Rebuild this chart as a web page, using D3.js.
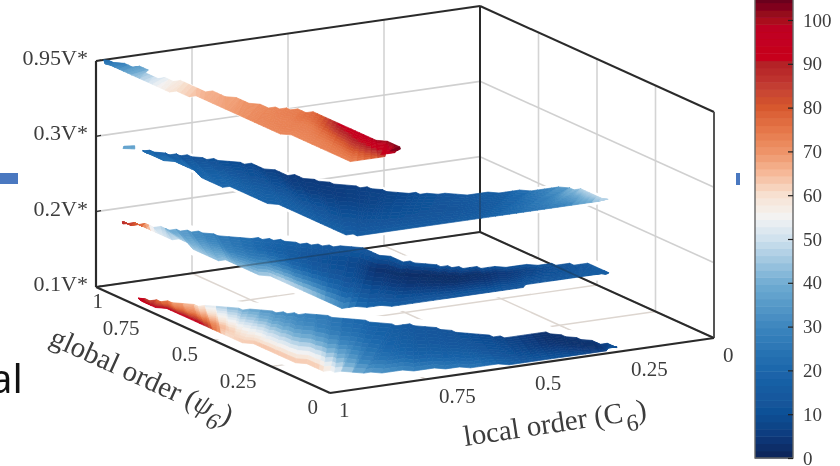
<!DOCTYPE html>
<html>
<head>
<meta charset="utf-8">
<script src="https://cdn.jsdelivr.net/npm/d3@7"></script>
<style>
  html, body { margin: 0; padding: 0; background: #fff; }
  svg { display: block; }
  text { font-family: "Liberation Serif", serif; fill: #3c3c3c; }
</style>
</head>
<body>
<svg id="chart" width="840" height="466"></svg>
<script>
// Axis ticks
const voltageLevels = ["0.1V*", "0.2V*", "0.3V*", "0.95V*"];
const psiTicks = [1, 0.75, 0.5, 0.25, 0];
const localTicks = [1, 0.75, 0.5, 0.25, 0];
const colorbarTicks = [0, 10, 20, 30, 40, 50, 60, 70, 80, 90, 100];

// Colormap
const colorStops = [0, 5, 10, 20, 30, 40, 50, 55, 60, 65, 70, 75, 80, 85, 90, 91, 98, 100, 105];
const colorValues = ["#0a2456", "#0e3a7c", "#104f95", "#1b66ab", "#3c86be", "#72add3", "#cfe1ee", "#f3f3f3",
  "#f7e2d2", "#f6b999", "#ee9468", "#e57648", "#d7582f", "#c33c30", "#b41f28", "#c8051f", "#bf0020", "#a80a1e", "#68001a"];

// Each band is a ribbon of cross sections: [psi upper edge, C upper edge, psi lower edge, C lower edge]
const band0Sections = [[.878,.965,.86,.97],[.816,.919,.75,.96],[.77,.88,.621,.96],[.726,.836,.524,.955],[.635,.751,.40,.94],
  [.566,.673,.175,.92],[.426,.584,.113,.854],[.398,.531,.075,.728],[.303,.477,.03,.583],[.22,.405,.025,.48],
  [.218,.312,.025,.38],[.091,.249,.025,.28],[.035,.231,.03,.235]];
// Five readings across each section, upper edge to lower edge
const band0Values = [[92,92,92,92,92],[72,74,78,85,92],[62,66,72,82,95],[45,52,58,64,60],[32,38,47,55,65],
  [26,28,38,52,64],[16,18,22,27,38],[14,14,16,20,28],[11,12,14,18,24],[7,8,9,11,15],
  [3,3,4,7,11],[5,3,3,4,7],[12,12,12,12,12]];

const band1Sections = [[.901,.992,.885,1],[.87,.964,.85,.97],[.835,.95,.80,.97],[.80,.93,.685,.96],[.757,.895,.55,.97],
  [.686,.85,.462,.95],[.627,.774,.30,.94],[.543,.72,.178,.943],[.471,.635,.058,.93],[.39,.624,.041,.879],
  [.297,.592,.014,.809],[.225,.525,.01,.70],[.202,.479,.011,.568],[.181,.403,.025,.50],[.147,.303,.039,.403],
  [.113,.254,.035,.32],[.03,.258,.03,.265]];
const band1Values = [[88,88,88,88,88],[78,78,78,78,78],[53,53,54,54,54],[40,40,42,44,46],[32,32,36,40,44],
  [25,26,28,34,42],[20,18,24,36,50],[16,12,16,28,46],[14,8,10,18,32],[13,3,6,12,20],
  [12,2,4,9,16],[11,2,3,8,15],[11,3,4,8,14],[12,6,7,10,14],[13,11,11,12,14],
  [15,14,14,15,15],[17,17,17,17,17]];

const band2Sections = [[.852,.968,.84,.97],[.805,.933,.70,.96],[.76,.901,.529,.965],[.666,.829,.40,.95],[.595,.802,.28,.94],
  [.507,.777,.15,.935],[.423,.742,.04,.931],[.343,.679,.01,.909],[.279,.647,.015,.85],[.21,.533,.021,.70],
  [.181,.421,.018,.598],[.154,.299,.02,.50],[.12,.268,.025,.38],[.022,.262,.025,.27]];
const band2Values = [[22,22,22,22,22],[16,17,20,22,23],[12,14,17,19,20],[9,11,14,17,19],[7,9,12,16,18],
  [5,6,10,14,18],[5,6,9,13,17],[7,7,9,12,16],[8,9,10,12,16],[14,13,12,13,15],
  [17,16,15,15,16],[34,30,26,24,22],[47,42,36,32,28],[48,48,48,48,48]];

// Small detached patch at the start of the 0.3V* band
const band2PatchSections = [[.90,.988,.885,1],[.892,.965,.87,.978]];
const band2PatchValues = [[40,38,38,38,40],[40,38,38,38,40]];

const band3Sections = [[1,.98,.97,.995],[.91,.94,.893,.995],[.822,.95,.80,.99],[.773,.925,.718,.985],[.671,.911,.62,.955],
  [.583,.887,.50,.954],[.494,.863,.40,.953],[.439,.81,.302,.95],[.373,.791,.22,.935],[.30,.787,.13,.934],
  [.22,.785,.022,.934],[.14,.783,.023,.863],[.057,.782,.05,.795]];
const band3Values = [[22,22,24,25,26],[36,36,36,36,36],[50,50,50,50,50],[58,58,58,58,58],[66,66,66,66,66],
  [69,69,69,69,69],[72,72,72,72,72],[74,74,73,73,72],[80,78,74,73,72],[92,86,78,74,73],
  [96,91,84,77,73],[101,96,92,86,80],[104,104,104,104,104]];

const width = 840, height = 466;
const svg = d3.select("#chart");

// Soft focus, the reference is an upscaled picture
svg.append("defs").append("filter").attr("id", "soft")
    .append("feGaussianBlur").attr("stdDeviation", 0.5);

// Box projection: psi and C run along the two floor edges, level goes straight up
const originX = 96, originY = 287;
let psiX = d3.scaleLinear().domain([1, 0]).range([0, 234]);
let psiY = d3.scaleLinear().domain([1, 0]).range([0, 106]);
let localX = d3.scaleLinear().domain([1, 0]).range([0, 384]);
let localY = d3.scaleLinear().domain([1, 0]).range([0, -55]);
let levelZ = d3.scalePoint().domain(voltageLevels).range([0, 226]);

function project(psi, c, level) {
  return [originX + psiX(psi) + localX(c), originY + psiY(psi) + localY(c) - levelZ(level)];
}

let color = d3.scaleLinear().domain(colorStops).range(colorValues);
let plot = svg.append("g").attr("filter", "url(#soft)");

function segment(g, a, b, stroke, w) {
  g.append("line")
      .attr("x1", a[0]).attr("y1", a[1])
      .attr("x2", b[0]).attr("y2", b[1])
      .attr("stroke", stroke).attr("stroke-width", w);
}

// Grid on the two walls and the floor
let grid = plot.append("g");
const bottom = voltageLevels[0], top_ = voltageLevels[3];
localTicks.slice(1, 4).forEach(function(c) {
  segment(grid, project(1, c, bottom), project(1, c, top_), "#d4d4d4", 1.6);
  segment(grid, project(1, c, bottom), project(0, c, bottom), "#ddd6d0", 1.4);
});
psiTicks.slice(1, 4).forEach(function(p) {
  segment(grid, project(p, 0, bottom), project(p, 0, top_), "#d4d4d4", 1.6);
  segment(grid, project(p, 1, bottom), project(p, 0, bottom), "#ddd6d0", 1.4);
});
voltageLevels.slice(1, 3).forEach(function(l) {
  segment(grid, project(1, 1, l), project(1, 0, l), "#d0d0d0", 1.6);
  segment(grid, project(1, 0, l), project(0, 0, l), "#d0d0d0", 1.6);
});

// Each band gets a white surround that hides the grid behind it
const snapStep = 0.018;
function snap(p) { return Math.round(p / snapStep) * snapStep; }

function sampleBand(sections, values) {
  let rows = [];
  const along = 8;
  for (let i = 0; i < sections.length - 1; i++) {
    for (let j = 0; j < along; j++) {
      let f = j / along;
      let row = sections[i].map(function(d, k) { return d + (sections[i + 1][k] - d) * f; });
      let vals = values[i].map(function(d, k) { return d + (values[i + 1][k] - d) * f; });
      if (sections.length > 2 && (i > 0 || j > 0)) row = row.map(snap);
      rows.push({ row: row, vals: vals });
    }
  }
  rows.push({ row: sections[sections.length - 1], vals: values[values.length - 1] });
  return rows;
}

function drawHalo(g, sections, values, level, halo) {
  let rows = sampleBand(sections, values);
  let upper = rows.map(function(d) { return project(d.row[0], d.row[1], level); });
  let lower = rows.map(function(d) { return project(d.row[2], d.row[3], level); }).reverse();
  g.append("polygon")
      .attr("points", upper.concat(lower).join(" "))
      .attr("fill", "#fff").attr("stroke", "#fff")
      .attr("stroke-width", halo).attr("stroke-linejoin", "round");
}

function drawBand(g, sections, values, level) {
  let rows = sampleBand(sections, values);
  const across = 12;
  let frac = d3.range(5).map(function(d) { return d / 4; });
  for (let i = 0; i < rows.length - 1; i++) {
    let a = rows[i], b = rows[i + 1];
    let va = d3.scaleLinear().domain(frac).range(a.vals);
    let vb = d3.scaleLinear().domain(frac).range(b.vals);
    for (let k = 0; k < across; k++) {
      let f0 = k / across, f1 = (k + 1) / across;
      let pt = function(r, f) {
        return project(r[0] + (r[2] - r[0]) * f, r[1] + (r[3] - r[1]) * f, level);
      };
      let c = color((va((f0 + f1) / 2) + vb((f0 + f1) / 2)) / 2);
      g.append("polygon")
          .attr("points", [pt(a.row, f0), pt(a.row, f1), pt(b.row, f1), pt(b.row, f0)].join(" "))
          .attr("fill", c).attr("stroke", c).attr("stroke-width", 0.7);
    }
  }
}

let bands = [
  { sections: band0Sections, values: band0Values, level: voltageLevels[0], halo: 14 },
  { sections: band1Sections, values: band1Values, level: voltageLevels[1], halo: 12 },
  { sections: band2Sections, values: band2Values, level: voltageLevels[2], halo: 6 },
  { sections: band2PatchSections, values: band2PatchValues, level: voltageLevels[2], halo: 0 },
  { sections: band3Sections, values: band3Values, level: voltageLevels[3], halo: 2 }
];

let halos = plot.append("g");
bands.forEach(function(b) { drawHalo(halos, b.sections, b.values, b.level, b.halo); });

// Box edges behind the bands
let box = plot.append("g");
const edge = "#2b2b2b";
function backEdges(g, w) {
  segment(g, project(1, 1, bottom), project(1, 0, bottom), edge, w);
  segment(g, project(1, 0, bottom), project(0, 0, bottom), edge, w);
  segment(g, project(1, 0, bottom), project(1, 0, top_), edge, w);
}
backEdges(box, 2);
segment(box, project(1, 1, bottom), project(1, 1, top_), edge, 2.2);
segment(box, project(1, 1, top_), project(1, 0, top_), edge, 2);
segment(box, project(1, 0, top_), project(0, 0, top_), edge, 2);
segment(box, project(0, 0, bottom), project(0, 0, top_), "#555", 2);

let surfaces = plot.append("g");
bands.forEach(function(b) { drawBand(surfaces, b.sections, b.values, b.level); });

// The bands are slightly see through
backEdges(plot.append("g").attr("opacity", 0.3), 1.6);

// Front floor edges sit on top
segment(plot, project(1, 1, bottom), project(0, 1, bottom), edge, 2.2);
segment(plot, project(0, 1, bottom), project(0, 0, bottom), edge, 2.2);

// Level labels and ticks on the left edge
let labels = plot.append("g");
voltageLevels.forEach(function(l) {
  let p = project(1, 1, l);
  segment(labels, p, [p[0] + 5, p[1] - 1], edge, 1.2);
  labels.append("text").attr("x", p[0] - 8).attr("y", p[1] + 4)
      .attr("text-anchor", "end").attr("font-size", 22).text(l);
});

// Tick labels along the floor
psiTicks.forEach(function(t) {
  let p = project(t, 1, bottom);
  labels.append("text").attr("x", p[0] + (t === 1 ? 7 : t === 0 ? -12 : -15)).attr("y", p[1] + 21)
      .attr("text-anchor", "end").attr("font-size", 21).text(t);
});
localTicks.forEach(function(t) {
  let p = project(0, t, bottom);
  labels.append("text").attr("x", p[0] + (t === 1 || t === 0 ? 9 : 13)).attr("y", p[1] + 24)
      .attr("text-anchor", "start").attr("font-size", 21).text(t);
});

// Axis titles follow the floor edges
let globalTitle = labels.append("text")
    .attr("transform", "translate(48,344) rotate(24.4)")
    .attr("font-size", 29);
globalTitle.append("tspan").text("global order (");
globalTitle.append("tspan").attr("font-style", "italic").text("ψ");
globalTitle.append("tspan").attr("dy", 10).attr("font-size", 24).attr("font-style", "italic").text("6");
globalTitle.append("tspan").attr("dy", -10).text(")");

let localTitle = labels.append("text")
    .attr("transform", "translate(465,446) rotate(-8.6)")
    .attr("font-size", 29);
localTitle.append("tspan").text("local order (C");
localTitle.append("tspan").attr("dy", 10).attr("dx", 2).attr("font-size", 24).text("6");
localTitle.append("tspan").attr("dy", -10).text(")");

// Colorbar
const barLeft = 755, barRight = 793, barBottom = 458;
let barScale = d3.scaleLinear().domain([0, 10]).range([barBottom, barBottom - 43.8]);
let barTop = barScale.invert(-2);
let bar = plot.append("g");
bar.selectAll("rect")
  .data(d3.range(0, barTop, 1.65))
  .enter().append("rect")
    .attr("x", barLeft).attr("width", barRight - barLeft)
    .attr("y", function(d) { return barScale(d + 1.65); })
    .attr("height", function(d) { return barScale(d) - barScale(d + 1.65) + 0.5; })
    .attr("fill", function(d) { return color(Math.min(d + 0.8, 105)); });
bar.append("rect").attr("x", barLeft).attr("y", -2)
    .attr("width", barRight - barLeft).attr("height", barBottom + 2)
    .attr("fill", "none").attr("stroke", "#666").attr("stroke-width", 1.4);

let barAxis = d3.axisRight(barScale).tickValues(colorbarTicks).tickSizeInner(-5).tickSizeOuter(0).tickPadding(10);
let barAxisG = plot.append("g").attr("transform", "translate(" + barRight + ",0)").call(barAxis);
barAxisG.select(".domain").remove();
barAxisG.selectAll("line").attr("stroke", "#222").attr("stroke-width", 1.2);
barAxisG.selectAll("text").attr("font-family", "Liberation Serif").attr("font-size", 19).attr("fill", "#3c3c3c");

// Leftovers of the slide this figure was cut from
svg.append("rect").attr("x", 0).attr("y", 173).attr("width", 18).attr("height", 11).attr("fill", "#4a78c0");
svg.append("rect").attr("x", 736).attr("y", 173).attr("width", 4).attr("height", 12).attr("fill", "#4a78c0");
svg.append("text").attr("x", -10).attr("y", 393).attr("font-size", 40)
    .style("font-family", "'Noto Sans', sans-serif").style("fill", "#111").text("al");
</script>
</body>
</html>
